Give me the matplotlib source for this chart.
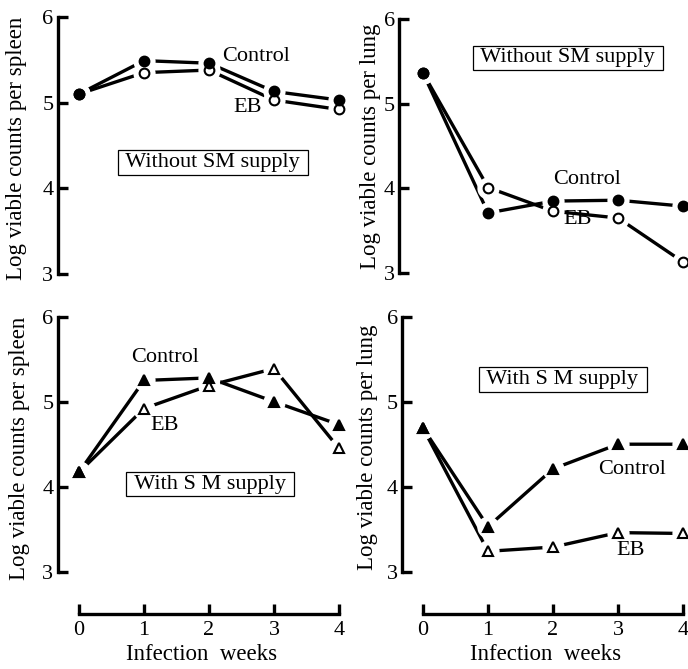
import matplotlib
matplotlib.use("Agg")
import matplotlib.pyplot as plt

plt.rcParams["font.family"] = ["Liberation Serif", "DejaVu Serif"]

# values (log viable counts)
weeks = [0, 1, 2, 3, 4]
spleen_wo_control = [5.10, 5.49, 5.46, 5.13, 5.03]
spleen_wo_eb = [5.10, 5.35, 5.38, 5.03, 4.92]
lung_wo_control = [5.36, 3.71, 3.85, 3.86, 3.79]
lung_wo_eb = [5.36, 4.01, 3.73, 3.65, 3.13]
spleen_w_control = [4.17, 5.25, 5.28, 5.00, 4.73]
spleen_w_eb = [4.17, 4.92, 5.19, 5.39, 4.45]
lung_w_control = [4.69, 3.53, 4.21, 4.50, 4.50]
lung_w_eb = [4.69, 3.24, 3.29, 3.46, 3.45]

y_ticks = [3, 4, 5, 6]
x_ticks = [0, 1, 2, 3, 4]

LW = 2.4
FS = 16


def series(ax, y, marker, filled, msize):
    ax.plot(weeks, y, color="black", lw=LW, solid_capstyle="butt", zorder=2)
    # white halo so the lines stop short of each point
    ax.plot(weeks, y, ls="none", marker="o", ms=msize + 9, mfc="white",
            mec="none", zorder=3, clip_on=False)
    ax.plot(weeks, y, ls="none", marker=marker, ms=msize,
            mfc="black" if filled else "white", mec="black", mew=1.5,
            zorder=4, clip_on=False)


def style(ax, ylabel, label_x, label_y, bottom_axis):
    for s in ["top", "right"]:
        ax.spines[s].set_visible(False)
    ax.spines["left"].set_bounds(3, 6)
    ax.spines["left"].set_linewidth(2.4)
    ax.set_yticks(y_ticks)
    ax.tick_params(axis="y", direction="in", length=7, width=2.4,
                   labelsize=FS, pad=3)
    ax.set_ylabel(ylabel, fontsize=16.5)
    ax.yaxis.set_label_coords(label_x, label_y)
    if bottom_axis:
        ax.spines["bottom"].set_bounds(0, 4)
        ax.spines["bottom"].set_linewidth(2.4)
        ax.set_xticks(x_ticks)
        ax.tick_params(axis="x", direction="in", length=7, width=2.4,
                       labelsize=FS, pad=5)
        ax.set_xlabel("Infection  weeks", fontsize=16.5, labelpad=3)
    else:
        ax.spines["bottom"].set_visible(False)
        ax.set_xticks([])


def boxed(ax, x, y, text):
    ax.text(x, y, " " + text + " ", ha="center", va="center", fontsize=FS,
            bbox=dict(boxstyle="square,pad=0.12", fc="white", ec="black", lw=0.9))


def label(ax, x, y, text):
    ax.text(x, y, text, ha="center", va="center", fontsize=FS)


fig = plt.figure(figsize=(6.88, 6.69), dpi=100)

# top left: spleen, without SM
ax = fig.add_axes([0.0836, 0.5776, 0.4186, 0.4099])
ax.set_xlim(-0.33, 4.1)
ax.set_ylim(2.9, 6.1)
series(ax, spleen_wo_eb, "o", False, 7)
series(ax, spleen_wo_control, "o", True, 7)
style(ax, "Log viable counts per spleen", -0.106, 0.49, False)
label(ax, 2.72, 5.54, "Control")
label(ax, 2.60, 4.94, "EB")
boxed(ax, 2.06, 4.30, "Without SM supply")

# top right: lung, without SM
ax = fig.add_axes([0.580, 0.5792, 0.4205, 0.405])
ax.set_xlim(-0.37, 4.08)
ax.set_ylim(2.9, 6.1)
series(ax, lung_wo_eb, "o", False, 7)
series(ax, lung_wo_control, "o", True, 7)
style(ax, "Log viable counts per lung", -0.062, 0.50, False)
label(ax, 2.52, 4.10, "Control")
label(ax, 2.37, 3.63, "EB")
boxed(ax, 2.23, 5.54, "Without SM supply")

# bottom left: spleen, with SM
ax = fig.add_axes([0.0836, 0.0819, 0.4186, 0.4574])
ax.set_xlim(-0.33, 4.1)
ax.set_ylim(2.5, 6.1)
series(ax, spleen_w_eb, "^", False, 7)
series(ax, spleen_w_control, "^", True, 7)
style(ax, "Log viable counts per spleen", -0.095, 0.543, True)
label(ax, 1.32, 5.52, "Control")
label(ax, 1.32, 4.72, "EB")
boxed(ax, 2.02, 4.03, "With S M supply")

# bottom right: lung, with SM
ax = fig.add_axes([0.5846, 0.0819, 0.4157, 0.4574])
ax.set_xlim(-0.32, 4.08)
ax.set_ylim(2.5, 6.1)
series(ax, lung_w_eb, "^", False, 7)
series(ax, lung_w_control, "^", True, 7)
style(ax, "Log viable counts per lung", -0.084, 0.545, True)
label(ax, 3.22, 4.20, "Control")
label(ax, 3.20, 3.25, "EB")
boxed(ax, 2.15, 5.26, "With S M supply")

fig.savefig("out.png", dpi=100)
